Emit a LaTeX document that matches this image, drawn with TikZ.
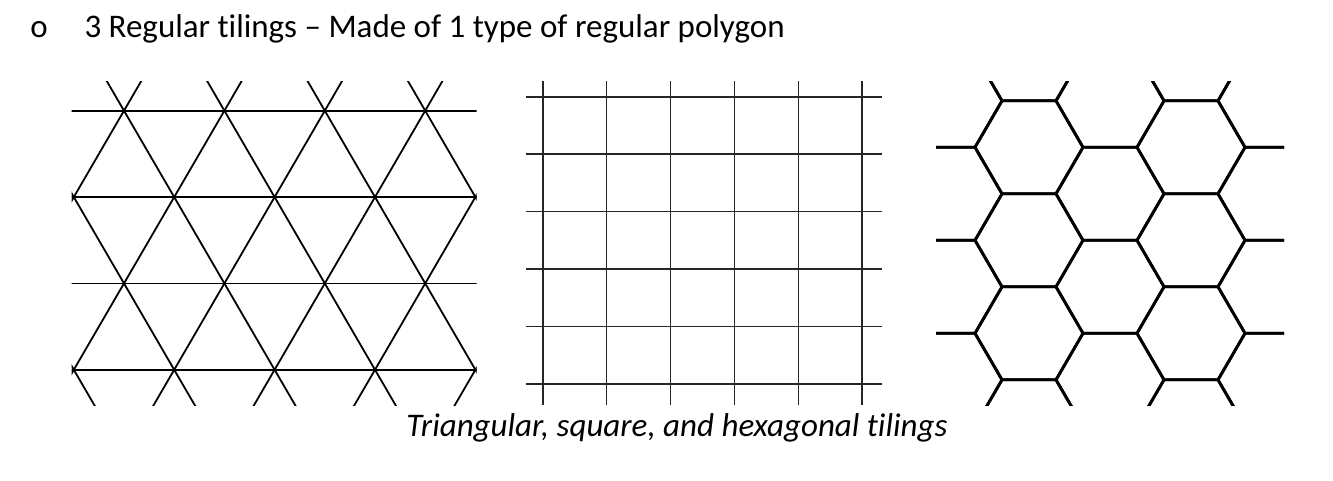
\documentclass[tikz,border=0pt]{standalone}
\usepackage{fontspec}
\setmainfont{Carlito}[Ligatures=NoCommon]
\begin{document}
\begin{tikzpicture}[x=1pt,y=-1pt,
  triline/.style={line width=1.8pt,black},
  sqline/.style={line width=1.6pt,black!85},
  hexline/.style={line width=2.8pt,black,line join=miter},
  txt/.style={inner sep=0pt,font=\fontsize{33}{38}\selectfont}]
\useasboundingbox[fill=white] (0,0) rectangle (1333,480);

% title
\node[txt,anchor=base] (bullet) at (39,37.7) {o};
\node[txt,anchor=base west] (title) at (84.3,37.7) {3 Regular tilings – Made of 1 type of regular polygon};

% triangular tiling
\begin{scope}
\clip (71.7,81.7) rectangle (476.7,405);
\def\dx{100.4}\def\dy{86.35}
\foreach \j in {0,...,3}
  \draw[triline] (60,110.7+\j*\dy) -- (490,110.7+\j*\dy);
\foreach \k in {-5,...,8}{
  \draw[triline] (124+\k*\dx-2*\dx/2,110.7-2*\dy) -- (124+\k*\dx+5*\dx/2,110.7+5*\dy);
  \draw[triline] (124+\k*\dx+2*\dx/2,110.7-2*\dy) -- (124+\k*\dx-5*\dx/2,110.7+5*\dy);
}
\end{scope}

% square tiling
\foreach \i in {0,...,5}
  \draw[sqline] (542.7+\i*63.9,81) -- (542.7+\i*63.9,405);
\foreach \j in {0,...,5}
  \draw[sqline] (526,96.7+\j*57.46) -- (882,96.7+\j*57.46);

% hexagonal tiling
\begin{scope}
\clip (936,81.7) rectangle (1284,405);
\foreach \c in {-1,...,4}{
  \foreach \r in {-1,...,3}{
    \pgfmathsetmacro{\cx}{1029+81*\c}
    \pgfmathsetmacro{\cy}{147.3+93*\r+46.5*mod(\c+2,2)}
    \draw[hexline] (\cx-54,\cy) -- (\cx-27,\cy-46.5) -- (\cx+27,\cy-46.5) -- (\cx+54,\cy) -- (\cx+27,\cy+46.5) -- (\cx-27,\cy+46.5) -- cycle;
  }
}
\end{scope}

% caption
\node[txt,anchor=base,font=\fontsize{33}{38}\selectfont\itshape] (caption) at (677,436.7) {Triangular, square, and hexagonal tilings};
\end{tikzpicture}
\end{document}
